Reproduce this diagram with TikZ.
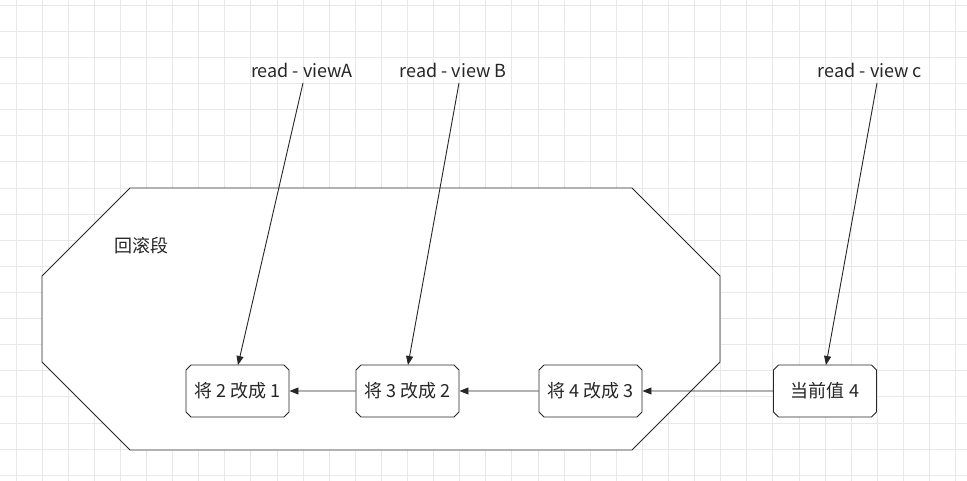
\documentclass[tikz,border=0pt]{standalone}
\usepackage{fontspec}
\setmainfont{Noto Sans CJK SC}
\usetikzlibrary{arrows.meta,shapes.misc}
\definecolor{ink}{HTML}{262626}
\definecolor{gridc}{HTML}{E8E8E8}
\tikzset{
  stepbox/.style={chamfered rectangle, chamfered rectangle xsep=2.5pt, chamfered rectangle ysep=2.5pt,
    draw=ink, fill=white, line width=0.9pt, minimum width=103pt, minimum height=52pt, inner sep=0pt,
    text=ink, font=\fontsize{18}{21}\selectfont},
  lbl/.style={text=ink, font=\fontsize{18}{21}\selectfont, inner sep=0pt},
  conn/.style={draw=ink, line width=0.9pt, -{Triangle[length=9pt,width=7pt]}},
}
\begin{document}
\begin{tikzpicture}[x=1pt,y=-1pt]
\useasboundingbox (0,0) rectangle (967,481);
\fill[white] (0,0) rectangle (967,481);
\foreach \i in {0,...,36} \draw[gridc, line width=0.8pt] ({15.9+26.1*\i},0) -- ({15.9+26.1*\i},481);
\foreach \j in {0,...,18} \draw[gridc, line width=0.8pt] (0,{5.3+26.1*\j}) -- (967,{5.3+26.1*\j});
% rollback segment octagon
\draw[ink, line width=0.8pt, fill=white] (130,188) -- (632,188) -- (720,276) -- (720,362) -- (632,450) -- (130,450) -- (42,362) -- (42,276) -- cycle;
\node[lbl] (title) at (141,246) {回滚段};
% boxes
\node[stepbox] (b1) at (237.5,391) {将 2 改成 1};
\node[stepbox] (b2) at (407.5,391) {将 3 改成 2};
\node[stepbox] (b3) at (590.5,391) {将 4 改成 3};
\node[stepbox] (b4) at (825,391) {当前值 4};
% labels
\node[lbl] (la) at (302,70) {read - viewA};
\node[lbl] (lb) at (453,70) {read - view B};
\node[lbl] (lc) at (870,70) {read - view c};
\coordinate (sa) at (303,83);
\coordinate (sb) at (459,83);
\coordinate (sc) at (877,83);
\coordinate (ta) at (238,365);
\coordinate (tb) at (408,365);
\coordinate (tc) at (826,365);
% connectors
\draw[conn] (sa) -- (ta);
\draw[conn] (sb) -- (tb);
\draw[conn] (sc) -- (tc);
\draw[conn] (b4) -- (b3);
\draw[conn] (b3) -- (b2);
\draw[conn] (b2) -- (b1);
\end{tikzpicture}
\end{document}
